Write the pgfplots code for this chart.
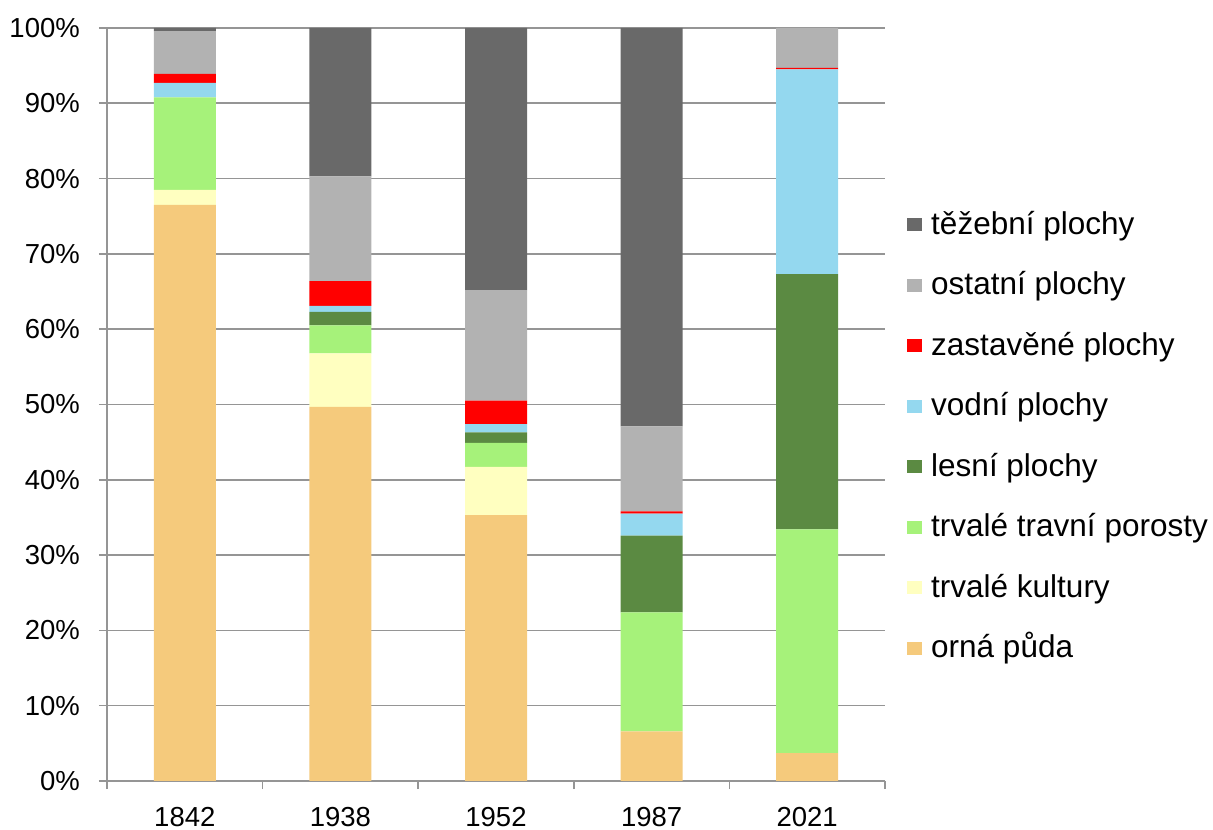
\documentclass[border=0pt]{standalone}
\usepackage{pgfplots}
\pgfplotsset{compat=1.18}
\usepackage{fontspec}
\setmainfont{Liberation Sans}
\definecolor{orna}{HTML}{F5CA7C}
\definecolor{kult}{HTML}{FFFFC0}
\definecolor{ttp}{HTML}{A6F27A}
\definecolor{lesni}{HTML}{5B8A42}
\definecolor{vodni}{HTML}{94D8EF}
\definecolor{zast}{HTML}{FF0000}
\definecolor{ostat}{HTML}{B2B2B2}
\definecolor{tezeb}{HTML}{696969}
\definecolor{gridgray}{HTML}{959595}
\pgfplotsset{sq/.style={legend image code/.code={\fill[##1] (0pt,-5.2pt) rectangle (15pt,8pt);}}}
\begin{document}
\begin{tikzpicture}
\useasboundingbox (0,0) rectangle (1213pt,830pt);
\begin{axis}[
  at={(107pt,49pt)}, anchor=south west,
  scale only axis, width=778pt, height=753pt,
  ybar stacked, bar width=62pt,
  xmin=-0.5, xmax=4.5, ymin=0, ymax=100,
  xtick={-0.5,0.5,1.5,2.5,3.5,4.5},
  x tick label as interval,
  xticklabels={1842,1938,1952,1987,2021},
  ytick={0,10,20,30,40,50,60,70,80,90,100},
  yticklabels={0\%,10\%,20\%,30\%,40\%,50\%,60\%,70\%,80\%,90\%,100\%},
  axis x line*=bottom, axis y line*=left,
  tick align=outside, major tick length=8pt,
  ymajorgrids, grid style={draw=gridgray, line width=1.6pt},
  axis line style={draw=gridgray, line width=1.6pt},
  tick style={draw=gridgray, line width=1.6pt},
  tick label style={font=\fontsize{27.5}{33}\selectfont},
  yticklabel style={anchor=east, inner sep=0pt, xshift=-19pt},
  xticklabel style={anchor=north, inner sep=0pt, yshift=-18pt},
  reverse legend,
  legend cell align=left,
  legend style={draw=none, fill=none, inner sep=0pt,
    at={(axis description cs:1.0283,0.7583)}, anchor=north west,
    row sep=28.5pt,
    nodes={inner sep=0pt, text height=24pt, text depth=8pt, font=\fontsize{31.5}{36}\selectfont},
    /tikz/every odd column/.append style={column sep=9pt}},
]
\addplot[fill=orna, draw=none, sq] coordinates {(0,76.5) (1,49.7) (2,35.3) (3,6.6) (4,3.7)};
\addplot[fill=kult, draw=none, sq] coordinates {(0,2.0) (1,7.1) (2,6.4) (3,0) (4,0)};
\addplot[fill=ttp, draw=none, sq] coordinates {(0,12.3) (1,3.7) (2,3.2) (3,15.8) (4,29.7)};
\addplot[fill=lesni, draw=none, sq] coordinates {(0,0) (1,1.8) (2,1.4) (3,10.2) (4,33.9)};
\addplot[fill=vodni, draw=none, sq] coordinates {(0,1.9) (1,0.8) (2,1.1) (3,2.9) (4,27.2)};
\addplot[fill=zast, draw=none, sq] coordinates {(0,1.2) (1,3.3) (2,3.1) (3,0.3) (4,0.2)};
\addplot[fill=ostat, draw=none, sq] coordinates {(0,5.7) (1,13.9) (2,14.7) (3,11.3) (4,5.3)};
\addplot[fill=tezeb, draw=none, sq] coordinates {(0,0.4) (1,19.7) (2,34.8) (3,52.9) (4,0)};
\legend{orná půda, trvalé kultury, trvalé travní porosty, lesní plochy, vodní plochy, zastavěné plochy, ostatní plochy, těžební plochy}
\end{axis}
\end{tikzpicture}
\end{document}
